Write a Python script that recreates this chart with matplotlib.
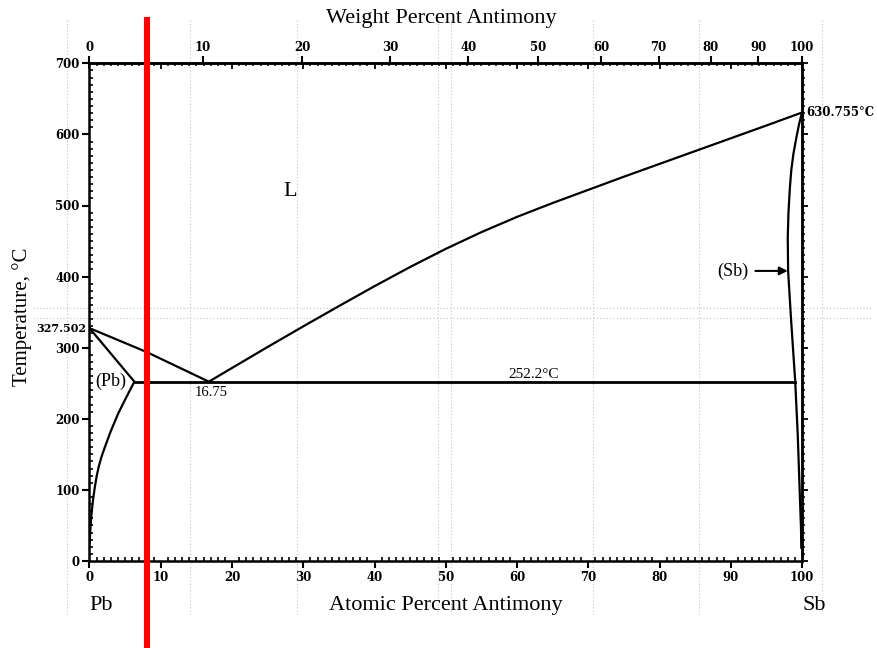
import numpy as np
import matplotlib.pyplot as plt
from matplotlib.lines import Line2D
from matplotlib.ticker import MultipleLocator

plt.rcParams['font.family'] = ['Liberation Serif', 'DejaVu Serif']

# atomic masses, used to convert atomic % <-> weight % on the top axis
M_PB = 207.2
M_SB = 121.76

# Pb-side liquidus (atomic % Sb, deg C)
liq_pb_x = [0, 8, 16.75]
liq_pb_t = [327.502, 294, 252.2]
# Sb-side liquidus
liq_sb_x = [16.75, 20, 25, 30, 35, 40, 45, 50, 55, 60, 65, 70, 75, 80, 85, 90, 95, 100]
liq_sb_t = [252.2, 271.5, 301, 330, 358.5, 386.5, 413.5, 439, 462.5, 484, 503.5, 522,
            540.5, 558.5, 576.5, 594.5, 612.5, 630.755]
# (Pb) solidus and solvus
sol_pb_x = [0, 6.3]
sol_pb_t = [327.502, 252.2]
solv_pb_x = [6.3, 5.2, 4.04, 3.0, 2.18, 1.7, 1.3, 1.0, 0.75, 0.55, 0.35, 0.2, 0.1, 0.04]
solv_pb_t = [252.2, 231, 207.7, 183, 160.8, 147, 133, 119, 104, 90, 73, 56, 41, 25]
# (Sb) solidus + solvus
sb_x = [100, 99.6, 99.2, 98.8, 98.5, 98.3, 98.1, 98.0, 98.05, 98.45, 99.05, 99.4, 99.86, 99.9]
sb_t = [630.755, 615, 595, 573, 550, 525, 490, 455, 408, 342, 252.2, 178, 46, 18]
# eutectic isotherm
eut_x = [6.3, 99.05]
eut_t = 252.2
# highlighted composition
marker_at = 8.0

# faint page grid of the scanned original (pixel positions)
page_vx = [66.7, 190, 296.7, 438, 451, 592.7, 699, 822]
page_hy = [308, 317.7]


def at2wt(a):
    a = np.clip(np.asarray(a, dtype=float), 0, 100)
    return 100 * a * M_SB / (a * M_SB + (100 - a) * M_PB)


def wt2at(w):
    w = np.clip(np.asarray(w, dtype=float), 0, 100)
    return 100 * (w / M_SB) / (w / M_SB + (100 - w) / M_PB)


W, H = 878, 648
fig = plt.figure(figsize=(W / 100, H / 100), dpi=100)
ax = fig.add_axes([89.5 / W, 1 - 561 / H, 712.5 / W, 497.7 / H])
ax.set_facecolor('none')

for x in page_vx:
    fig.add_artist(Line2D([x / W, x / W], [1 - 20 / H, 1 - 614 / H], transform=fig.transFigure,
                          ls=(0, (1, 2)), color='#c4c4c4', lw=0.8, zorder=0))
for y in page_hy:
    fig.add_artist(Line2D([33 / W, 873 / W], [1 - y / H, 1 - y / H], transform=fig.transFigure,
                          ls=(0, (1, 2)), color='#c4c4c4', lw=0.8, zorder=0))

lk = dict(color='black', lw=1.6, solid_capstyle='round', solid_joinstyle='round')
ax.plot(liq_pb_x, liq_pb_t, **lk)
ax.plot(liq_sb_x, liq_sb_t, **lk)
ax.plot(sol_pb_x, sol_pb_t, **lk)
ax.plot(solv_pb_x, solv_pb_t, **lk)
ax.plot(sb_x, sb_t, **lk)
ax.plot(eut_x, [eut_t, eut_t], color='black', lw=2.0)

tickfont = dict(family='DejaVu Serif', weight='bold', size=8.5)

ax.set_xlim(0, 100)
ax.set_ylim(0, 700)
ax.set_xticks(range(0, 101, 10))
ax.set_yticks(range(0, 701, 100))
ax.xaxis.set_minor_locator(MultipleLocator(1))
ax.yaxis.set_minor_locator(MultipleLocator(10))
ax.tick_params(which='major', direction='out', length=5, width=1.5, pad=2)
ax.tick_params(which='minor', direction='in', length=3, width=1.2)
for s in ax.spines.values():
    s.set_linewidth(1.8)

# top: weight percent, plus inward atomic ticks
secw = ax.secondary_xaxis('top', functions=(at2wt, wt2at))
secw.set_xticks(range(0, 101, 10))
secw.tick_params(which='major', direction='out', length=5, width=1.5, pad=2)
secw.spines['top'].set_linewidth(1.8)
seca = ax.secondary_xaxis('top')
seca.set_xticks(range(0, 101, 10))
seca.xaxis.set_minor_locator(MultipleLocator(1))
seca.tick_params(which='major', direction='in', length=4, width=1.3, labeltop=False)
seca.tick_params(which='minor', direction='in', length=2.5, width=1.1)
secr = ax.secondary_yaxis('right')
secr.set_yticks(range(0, 701, 100))
secr.yaxis.set_minor_locator(MultipleLocator(10))
secr.tick_params(which='major', direction='out', length=4, width=1.3, labelright=False)
secr.tick_params(which='minor', direction='out', length=2.5, width=1.1)
secr.spines['right'].set_linewidth(1.8)

for lbl in ax.get_xticklabels() + ax.get_yticklabels() + secw.get_xticklabels():
    lbl.set_fontproperties(tickfont)

fig.text(441.5 / W, 1 - 19 / H, 'Weight Percent Antimony', ha='center', va='center', fontsize=16)
ax.set_xlabel('Atomic Percent Antimony', fontsize=16)
ax.xaxis.set_label_coords(0.5, -0.071)
ax.set_ylabel('Temperature, °C', fontsize=15)
ax.yaxis.set_label_coords(-0.081, 0.49)

ax.text(0, -0.089, 'Pb', transform=ax.get_xaxis_transform(), ha='left', va='center', fontsize=16)
ax.text(100, -0.089, 'Sb', transform=ax.get_xaxis_transform(), ha='left', va='center', fontsize=16)

ax.text(-0.45, 327.502, '327.502', ha='right', va='center', fontproperties=dict(tickfont, size=8))
ax.text(100.6, 630.755, '630.755°C', ha='left', va='center', fontproperties=tickfont)
ax.text(17.1, 237, '16.75', ha='center', va='center', fontsize=10.5)
ax.text(62.4, 262, '252.2°C', ha='center', va='center', fontsize=11)
ax.text(3.0, 252, '(Pb)', ha='center', va='center', fontsize=13)
ax.text(28.1, 520, 'L', ha='center', va='center', fontsize=16)
ax.annotate('(Sb)', xy=(98.0, 408), xytext=(90.3, 408), ha='center', va='center', fontsize=13,
            arrowprops=dict(arrowstyle='-|>', color='black', lw=1.5, shrinkA=3, shrinkB=0,
                            mutation_scale=12))

ax.axvline(marker_at, ymin=-(H - 561) / 497.7, ymax=(561 - 20) / 497.7, clip_on=False,
           color='#ff0000', lw=4.4, zorder=10)

fig.savefig('out.png', dpi=100)
